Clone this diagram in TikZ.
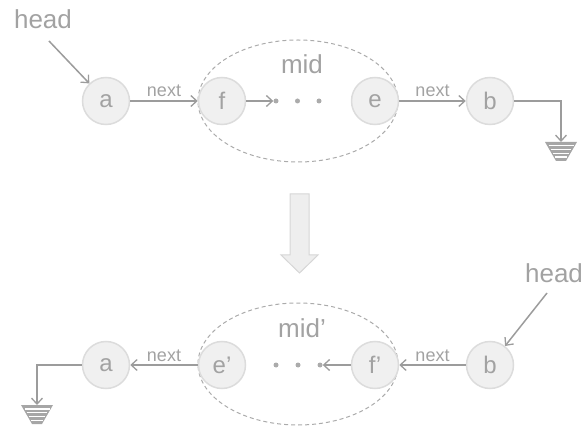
\documentclass[tikz,border=0pt]{standalone}
\usepackage{fontspec}
\setmainfont{Liberation Sans}
\usetikzlibrary{arrows.meta,shapes.geometric}
\definecolor{linegray}{HTML}{9C9C9C}
\definecolor{txtgray}{HTML}{A2A2A2}
\definecolor{nodefill}{HTML}{F0F0F0}
\definecolor{nodeline}{HTML}{DCDCDC}
\definecolor{dashgray}{HTML}{ABABAB}
\definecolor{blockfill}{HTML}{EEEEEE}
\definecolor{blockline}{HTML}{D6D6D6}
\tikzset{
  listnode/.style={circle, minimum size=47pt, inner sep=0pt, fill=nodefill, draw=nodeline, line width=1.5pt,
    text=txtgray, font=\fontsize{24}{28}\selectfont},
  conn/.style={draw=linegray, line width=1.5pt, -{Straight Barb[length=6pt,width=11pt,line width=1.3pt]}},
  nextlbl/.style={midway, anchor=base, yshift=4pt, text=txtgray, inner sep=0pt, font=\fontsize{18}{20}\selectfont},
  bigtxt/.style={anchor=base, text=txtgray, inner sep=0pt, font=\fontsize{26}{30}\selectfont},
  dotnode/.style={circle, fill=linegray!85, inner sep=0pt, minimum size=5pt},
  midellipse/.style={ellipse, draw=dashgray, dash pattern=on 4pt off 3pt, line width=1pt, minimum width=200pt, minimum height=122pt, inner sep=0pt},
  pics/groundsym/.style={code={
    \fill[linegray!90] (-16,0) -- (16,0) -- (5,19) -- (-5,19) -- cycle;
    \draw[white, line width=1.4pt] (-12.5,3.8) -- (12.5,3.8) (-10.3,7.6) -- (10.3,7.6)
      (-8.1,11.4) -- (8.1,11.4) (-5.9,15.2) -- (5.9,15.2);
  }}
}
\begin{document}
\begin{tikzpicture}[x=1pt, y=-1pt]
\useasboundingbox (0,0) rectangle (588,427);

% ---------- top list ----------
\node[midellipse] (mid1) at (298,101) {};
\node[bigtxt] (midlbl1) at (302,74) {mid};
\node[listnode] (a1) at (106,101) {a};
\node[listnode] (f1) at (222,101) {f};
\node[listnode] (e1) at (375,101) {e};
\node[listnode] (b1) at (490,101) {b};
\node[dotnode] (d11) at (276,101) {};
\node[dotnode] (d12) at (297.5,101) {};
\node[dotnode] (d13) at (319,101) {};
\node[bigtxt] (head1) at (43,29) {head};
\coordinate (h1) at (49,41);
\coordinate (g1) at (561,142);

\draw[conn] (h1) -- (a1);
\draw[conn] (a1) -- node[nextlbl] {next} (f1);
\draw[conn] (f1) -- (d11);
\draw[conn] (e1) -- node[nextlbl] {next} (b1);
\draw[conn] (b1.east) -| (g1);
\pic at (g1) {groundsym};

% ---------- block arrow ----------
\filldraw[fill=blockfill, draw=blockline, line width=1pt]
  (290,194) -- (309,194) -- (309,255) -- (318,255) -- (299.5,273) -- (281,255) -- (290,255) -- cycle;

% ---------- bottom list ----------
\node[midellipse] (mid2) at (298,364) {};
\node[bigtxt] (midlbl2) at (302,337) {mid’};
\node[listnode] (a2) at (106,365) {a};
\node[listnode] (e2) at (222,365) {e’};
\node[listnode] (f2) at (375,365) {f’};
\node[listnode] (b2) at (490,365) {b};
\node[dotnode] (d21) at (276,365) {};
\node[dotnode] (d22) at (298,365) {};
\node[dotnode] (d23) at (320,365) {};
\node[bigtxt] (head2) at (554,282) {head};
\coordinate (h2) at (547,293);
\coordinate (g2) at (37,405);

\draw[conn] (h2) -- (b2);
\draw[conn] (b2) -- node[nextlbl] {next} (f2);
\draw[conn] (f2) -- (d23);
\draw[conn] (e2) -- node[nextlbl] {next} (a2);
\draw[conn] (a2.west) -| (g2);
\pic at (g2) {groundsym};
\end{tikzpicture}
\end{document}
